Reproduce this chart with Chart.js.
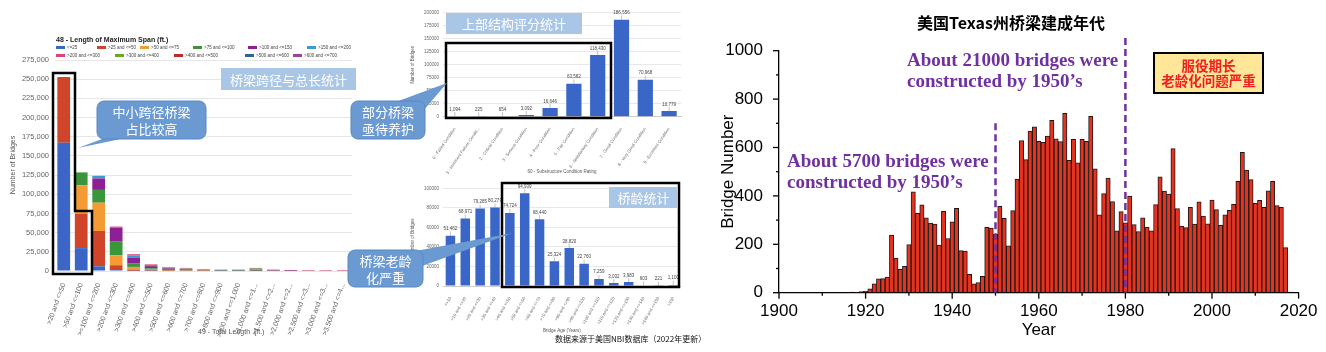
<!DOCTYPE html>
<html>
<head>
<meta charset="utf-8">
<script src="https://cdn.jsdelivr.net/npm/chart.js@4.4.1/dist/chart.umd.min.js"></script>
<style>
  html, body { margin: 0; padding: 0; background: #fff; }
  #wrap { position: relative; width: 1326px; height: 352px; overflow: hidden; font-family: 'Liberation Sans', Arial, sans-serif; }
  canvas { position: absolute; }
  svg { position: absolute; left: 0; top: 0; }
  .t { position: absolute; white-space: nowrap; }
  .cjk { font-family: 'Noto Sans CJK SC', sans-serif; }
  .tag { position: absolute; display: flex; align-items: center; justify-content: center; color: #fff;
         font-family: 'Noto Sans CJK SC', sans-serif; font-size: 13px; text-align: center; line-height: 17px; }
  .note { position: absolute; white-space: nowrap; color: #7030A0; font-family: 'Liberation Serif', serif;
          font-weight: bold; font-size: 19px; line-height: 21px; }
  #legend .item { position: absolute; display: flex; align-items: center; font-size: 4.5px; color: #444; white-space: nowrap; }
  #legend .box { width: 9px; height: 3px; margin-right: 2px; }
</style>
</head>
<body>
<div id="wrap">
  <canvas id="spanChart" width="365" height="352" style="left:0;top:0"></canvas>
  <canvas id="ratingChart" width="310" height="178" style="left:385px;top:0"></canvas>
  <canvas id="ageChart" width="310" height="174" style="left:385px;top:178px"></canvas>
  <canvas id="texasChart" width="626" height="352" style="left:700px;top:0"></canvas>

  <!-- left chart heading, legend and axis titles -->
  <div class="t" style="left:56px;top:36px;font-size:7px;font-weight:bold;color:#222">48 - Length of Maximum Span (ft.)</div>
  <div id="legend"></div>
  <div class="t" style="left:198px;top:328px;font-size:7px;color:#555">49 - Total Length&nbsp; (ft.)</div>
  <div class="t" style="left:12px;top:165px;font-size:7px;color:#555;transform:translate(-50%,-50%) rotate(-90deg)">Number of Bridges</div>

  <svg width="1326" height="352">
    <!-- black highlight frames -->
    <polygon points="53,73 75,73 75,211 92,211 92,274 53,274" fill="none" stroke="#000" stroke-width="2.5"/>
    <rect x="446" y="43" width="165" height="75" fill="none" stroke="#000" stroke-width="2.5"/>
    <rect x="502" y="183" width="177" height="104" fill="none" stroke="#000" stroke-width="2.5"/>
    <!-- title boxes -->
    <rect x="221" y="68" width="135" height="22" fill="#A9C6E7"/>
    <rect x="446" y="13" width="136" height="21" fill="#A9C6E7"/>
    <rect x="609" y="187" width="69" height="21" fill="#A9C6E7"/>
    <!-- callouts -->
    <polygon points="110,136 135,136 78,148" fill="#6A9AD1"/>
    <rect x="97" y="101" width="109" height="38" rx="7" fill="#6A9AD1" stroke="#5A88C0" stroke-width="1"/>
    <polygon points="393,103 423,111 447,83" fill="#6A9AD1"/>
    <rect x="351" y="101" width="74" height="38" rx="7" fill="#6A9AD1" stroke="#5A88C0" stroke-width="1"/>
    <polygon points="410,252 422,266 513,233" fill="#6A9AD1"/>
    <rect x="348" y="250" width="75" height="37" rx="7" fill="#6A9AD1" stroke="#5A88C0" stroke-width="1"/>
    <!-- Texas note box -->
    <rect x="1154" y="53" width="109" height="40" fill="#FFE699" stroke="#000" stroke-width="2"/>
  </svg>

  <div class="tag" style="left:221px;top:68px;width:135px;height:22px">桥梁跨径与总长统计</div>
  <div class="tag" style="left:446px;top:13px;width:136px;height:21px">上部结构评分统计</div>
  <div class="tag" style="left:609px;top:187px;width:69px;height:21px">桥龄统计</div>
  <div class="tag" style="left:97px;top:101px;width:109px;height:38px">中小跨径桥梁<br>占比较高</div>
  <div class="tag" style="left:351px;top:101px;width:74px;height:38px">部分桥梁<br>亟待养护</div>
  <div class="tag" style="left:348px;top:250px;width:75px;height:37px">桥梁老龄<br>化严重</div>
  <div class="t cjk" style="left:555px;top:333px;font-size:8px;color:#111">数据来源于美国NBI数据库（2022年更新）</div>

  <!-- Texas chart texts -->
  <div class="t cjk" style="left:1011px;top:22px;transform:translate(-50%,-50%);font-size:16px;font-weight:bold;color:#000">美国Texas州桥梁建成年代</div>
  <div class="note" style="left:907px;top:49px">About 21000 bridges were<br>constructed by 1950’s</div>
  <div class="note" style="left:787px;top:150px">About 5700 bridges were<br>constructed by 1950’s</div>
  <div class="tag" style="left:1154px;top:53px;width:109px;height:40px;color:#F02020;font-weight:bold;font-size:13.5px;line-height:15px">服役期长<br>老龄化问题严重</div>
</div>

<script>
// ---------- left: span / total length (stacked) ----------
const spanCategories = ['>20 and <=50', '>50 and <=100', '>=100 and <=200', '>200 and <=300', '>300 and <=400',
  '>400 and <=500', '>500 and <=600', '>600 and <=700', '>700 and <=800', '>800 and <=900', '>900 and <=1,000',
  '>1,000 and <=1...', '>1,500 and <=2...', '>2,000 and <=2...', '>2,500 and <=3...', '>3,000 and <=3...', '>3,500 and <=4...'];
const spanSeries = ['<=25', '>25 and <=50', '>50 and <=75', '>75 and <=100', '>100 and <=150', '>150 and <=200',
  '>200 and <=300', '>300 and <=400', '>400 and <=500', '>500 and <=600', '>600 and <=700'];
const spanColors = ['#3B66C6', '#D0442A', '#F59B33', '#3A963A', '#8F1F94', '#3A9BD0',
  '#DD4477', '#6AAA1E', '#B82E2E', '#316395', '#994499'];
const span_le25    = [167000, 29800, 6100, 1300, 300, 100, 0, 0, 0, 0, 0, 0, 0, 0, 0, 0, 0];
const span_25_50   = [86000, 44800, 46100, 6200, 1500, 400, 200, 0, 0, 0, 0, 0, 0, 0, 0, 0, 0];
const span_50_75   = [0, 37200, 36800, 13100, 3500, 1200, 500, 300, 100, 0, 0, 0, 0, 0, 0, 0, 0];
const span_75_100  = [0, 16700, 16700, 17600, 4300, 1800, 900, 500, 300, 200, 100, 200, 0, 0, 0, 0, 0];
const span_100_150 = [0, 0, 14900, 17900, 7900, 2800, 1800, 1300, 800, 500, 400, 800, 200, 100, 0, 0, 0];
const span_150_200 = [0, 0, 3500, 1200, 2600, 1500, 1000, 800, 600, 400, 400, 700, 200, 100, 0, 0, 0];
const span_200_300 = [0, 0, 0, 600, 1800, 700, 600, 600, 400, 300, 400, 900, 400, 300, 150, 100, 50];
const span_300_400 = [0, 0, 0, 0, 0, 300, 300, 300, 250, 200, 200, 600, 400, 300, 150, 100, 100];
const span_400_500 = [0, 0, 0, 0, 0, 0, 0, 200, 150, 200, 150, 400, 300, 250, 150, 100, 100];
const span_500_600 = [0, 0, 0, 0, 0, 0, 0, 0, 0, 0, 150, 250, 200, 150, 150, 100, 80];
const span_600_700 = [0, 0, 0, 0, 0, 0, 0, 0, 0, 0, 0, 150, 100, 100, 100, 100, 70];
const spanValues = [span_le25, span_25_50, span_50_75, span_75_100, span_100_150, span_150_200,
  span_200_300, span_300_400, span_400_500, span_500_600, span_600_700];
const spanTicks = { min: 0, max: 275000, step: 25000 };

// ---------- middle top: superstructure rating ----------
const ratingLabels = ['0 - Failed Condition', '1 - Imminent Failure Condit...', '2 - Critical Condition',
  '3 - Serious Condition', '4 - Poor Condition', '5 - Fair Condition', '6 - Satisfactory Condition',
  '7 - Good Condition', '8 - Very Good Condition', '9 - Excellent Condition'];
const ratingValues = [1094, 225, 654, 3092, 16646, 63582, 118430, 186556, 70968, 10779];

// ---------- middle bottom: bridge age ----------
const ageLabels = ['<=10', '>10 and <=20', '>20 and <=30', '>30 and <=40', '>40 and <=50', '>50 and <=60',
  '>60 and <=70', '>70 and <=80', '>80 and <=90', '>90 and <=100', '>100 and <=110', '>110 and <=120',
  '>120 and <=130', '>130 and <=140', '>140 and <=150', '>150'];
const ageValues = [51462, 68971, 79285, 80279, 74724, 94939, 68440, 25324, 38820, 22760, 7259, 3032, 3983, 603, 221, 1100];

// ---------- right: Texas bridges by year built ----------
const texasYears = [1916, 1917, 1918, 1919, 1920, 1921, 1922, 1923, 1924, 1925, 1926, 1927, 1928, 1929,
  1930, 1931, 1932, 1933, 1934, 1935, 1936, 1937, 1938, 1939, 1940, 1941, 1942, 1943, 1944, 1945, 1946, 1947,
  1948, 1949, 1950, 1951, 1952, 1953, 1954, 1955, 1956, 1957, 1958, 1959, 1960, 1961, 1962, 1963, 1964, 1965,
  1966, 1967, 1968, 1969, 1970, 1971, 1972, 1973, 1974, 1975, 1976, 1977, 1978, 1979, 1980, 1981, 1982, 1983,
  1984, 1985, 1986, 1987, 1988, 1989, 1990, 1991, 1992, 1993, 1994, 1995, 1996, 1997, 1998, 1999, 2000, 2001,
  2002, 2003, 2004, 2005, 2006, 2007, 2008, 2009, 2010, 2011, 2012, 2013, 2014, 2015, 2016, 2017, 2018];
const texasCounts = [2, 3, 2, 5, 6, 16, 37, 57, 58, 65, 238, 143, 97, 109,
  199, 417, 328, 363, 309, 288, 284, 197, 336, 224, 293, 349, 174, 172, 76, 37, 42, 68,
  270, 267, 241, 357, 307, 194, 339, 470, 629, 550, 668, 685, 625, 621, 647, 712, 636, 624,
  741, 547, 634, 537, 634, 625, 729, 512, 322, 410, 474, 377, 256, 335, 289, 399, 282, 253,
  309, 271, 256, 364, 479, 420, 408, 596, 348, 275, 269, 353, 284, 375, 317, 285, 383, 343,
  278, 322, 340, 365, 460, 580, 507, 467, 369, 382, 353, 421, 460, 360, 353, 186, 3];
const markerYears = [1950, 1980];
const markerTops = [700, 1052];

const sans = 'Liberation Sans';

// legend for the stacked chart (built from the series list)
const legendRows = [[56, 97, 140, 193, 248, 307], [56, 115, 174, 245, 293]];
(function buildLegend() {
  const box = document.getElementById('legend');
  let k = 0;
  legendRows.forEach((row, r) => {
    row.forEach(left => {
      const it = document.createElement('div');
      it.className = 'item';
      it.style.left = left + 'px';
      it.style.top = (45 + r * 7.5) + 'px';
      it.innerHTML = '<span class="box" style="background:' + spanColors[k] + '"></span>' + spanSeries[k].replace(/</g, '&lt;').replace(/>/g, '&gt;');
      box.appendChild(it);
      k++;
    });
  });
})();

new Chart(document.getElementById('spanChart'), {
  type: 'bar',
  data: {
    labels: spanCategories,
    datasets: spanSeries.map((name, i) => ({
      label: name,
      data: spanValues[i],
      backgroundColor: spanColors[i],
      borderWidth: 0,
      barPercentage: 0.73,
      categoryPercentage: 1
    }))
  },
  options: {
    responsive: false,
    animation: false,
    layout: { padding: { left: 0, right: 13, top: 60, bottom: 0 } },
    plugins: { legend: { display: false }, tooltip: { enabled: false } },
    scales: {
      x: {
        stacked: true,
        grid: { display: false },
        border: { display: false },
        ticks: { autoSkip: false, minRotation: 70, maxRotation: 70, padding: 3, color: '#666', font: { family: sans, size: 7 } },
        afterFit: s => { s.height = 81; }
      },
      y: {
        stacked: true,
        min: spanTicks.min,
        max: spanTicks.max,
        grid: { color: '#e6e6e6', drawTicks: false },
        border: { display: false },
        ticks: { stepSize: spanTicks.step, padding: 6, color: '#666', font: { family: sans, size: 7.5 },
                 callback: v => v.toLocaleString('en-US') },
        afterFit: s => { s.width = 55; }
      }
    }
  }
});

// value labels with small leader lines above each bar
const barValueLabels = {
  id: 'barValueLabels',
  afterDatasetsDraw(chart) {
    const ctx = chart.ctx;
    const meta = chart.getDatasetMeta(0);
    const vals = chart.data.datasets[0].data;
    ctx.save();
    ctx.font = '4.5px "Liberation Sans"';
    ctx.fillStyle = '#444';
    ctx.strokeStyle = '#999';
    ctx.lineWidth = 0.6;
    ctx.textAlign = 'center';
    ctx.textBaseline = 'bottom';
    meta.data.forEach((bar, i) => {
      ctx.beginPath();
      ctx.moveTo(bar.x, bar.y);
      ctx.lineTo(bar.x, bar.y - 4);
      ctx.stroke();
      ctx.fillText(vals[i].toLocaleString('en-US'), bar.x, bar.y - 4.5);
    });
    ctx.restore();
  }
};

function smallBarChart(id, labels, values, maxV, step, xTitle, padTop, axisH, padRight, rot, xTitlePad) {
  return new Chart(document.getElementById(id), {
    type: 'bar',
    data: { labels: labels, datasets: [{ data: values, backgroundColor: '#3A66C8', barPercentage: 0.64, categoryPercentage: 1 }] },
    options: {
      responsive: false,
      animation: false,
      layout: { padding: { left: 0, right: padRight, top: padTop, bottom: 0 } },
      plugins: { legend: { display: false }, tooltip: { enabled: false } },
      scales: {
        x: {
          grid: { display: false },
          border: { display: true, color: '#ccc' },
          ticks: { autoSkip: false, minRotation: rot, maxRotation: rot, padding: 2, color: '#666', font: { family: sans, size: 4.3 } },
          title: { display: true, text: xTitle, color: '#555', font: { family: sans, size: 4.5 }, padding: { top: 0, bottom: xTitlePad } },
          afterFit: s => { s.height = axisH; }
        },
        y: {
          min: 0,
          max: maxV,
          grid: { color: '#e8e8e8', drawTicks: false },
          border: { display: false },
          ticks: { stepSize: step, padding: 4, color: '#666', font: { family: sans, size: 4.5 }, callback: v => String(v) },
          title: { display: true, text: 'Number of Bridges', color: '#555', font: { family: sans, size: 4.5 }, padding: { top: 25, bottom: 0 } },
          afterFit: s => { s.width = 58; }
        }
      }
    },
    plugins: [barValueLabels]
  });
}

smallBarChart('ratingChart', ratingLabels, ratingValues, 200000, 25000, '60 - Substructure Condition Rating', 12.7, 61.3, 14, 55, 4);
smallBarChart('ageChart', ageLabels, ageValues, 100000, 20000, 'Bridge Age (Years)', 10.3, 66, 14.3, 60, 19);

// ---------- Texas chart ----------
const texasExtras = {
  id: 'texasExtras',
  afterDraw(chart) {
    const { ctx, scales: { x, y } } = chart;
    const seg = (x1, y1, x2, y2) => { ctx.beginPath(); ctx.moveTo(x1, y1); ctx.lineTo(x2, y2); ctx.stroke(); };
    ctx.save();
    ctx.strokeStyle = '#000';
    ctx.lineWidth = 1.3;
    for (let v = 0; v <= 1000; v += 100) {
      const py = y.getPixelForValue(v);
      seg(x.left - (v % 200 === 0 ? 6 : 3), py, x.left, py);
    }
    for (let yr = 1900; yr <= 2020; yr += 10) {
      const px = x.getPixelForValue(yr);
      seg(px, y.bottom, px, y.bottom + (yr % 20 === 0 ? 6 : 3));
    }
    ctx.strokeStyle = '#7030A0';
    ctx.lineWidth = 2.5;
    ctx.setLineDash([7, 4]);
    markerYears.forEach((yr, i) => {
      const px = x.getPixelForValue(yr);
      seg(px, y.getPixelForValue(markerTops[i]), px, y.getPixelForValue(0));
    });
    ctx.restore();
  }
};

new Chart(document.getElementById('texasChart'), {
  type: 'bar',
  data: {
    datasets: [{
      data: texasYears.map((yr, i) => ({ x: yr, y: texasCounts[i] })),
      backgroundColor: '#E8321E',
      borderColor: '#1a1a1a',
      borderWidth: 1,
      barPercentage: 1,
      categoryPercentage: 1
    }]
  },
  options: {
    responsive: false,
    animation: false,
    layout: { padding: { left: 0, right: 27.4, top: 50.7, bottom: 0 } },
    plugins: { legend: { display: false }, tooltip: { enabled: false } },
    scales: {
      x: {
        type: 'linear',
        min: 1900,
        max: 2020,
        offset: false,
        grid: { display: true, drawOnChartArea: false, drawTicks: false, offset: false },
        border: { display: true, color: '#000', width: 1.3 },
        ticks: { stepSize: 20, padding: 8, color: '#000', font: { family: sans, size: 17 }, callback: v => String(v) },
        title: { display: true, text: 'Year', color: '#000', font: { family: sans, size: 17 }, padding: { top: 0, bottom: 11.8 } },
        afterFit: s => { s.height = 59.3; }
      },
      y: {
        min: 0,
        max: 1000,
        grid: { display: true, drawOnChartArea: false, drawTicks: false },
        border: { display: true, color: '#000', width: 1.3 },
        ticks: { stepSize: 200, padding: 16, color: '#000', font: { family: sans, size: 17 }, callback: v => String(v) },
        title: { display: true, text: 'Bridge Number', color: '#000', font: { family: sans, size: 17 }, padding: { top: 17.8, bottom: 0 } },
        afterFit: s => { s.width = 79; }
      }
    }
  },
  plugins: [texasExtras]
});
</script>
</body>
</html>
